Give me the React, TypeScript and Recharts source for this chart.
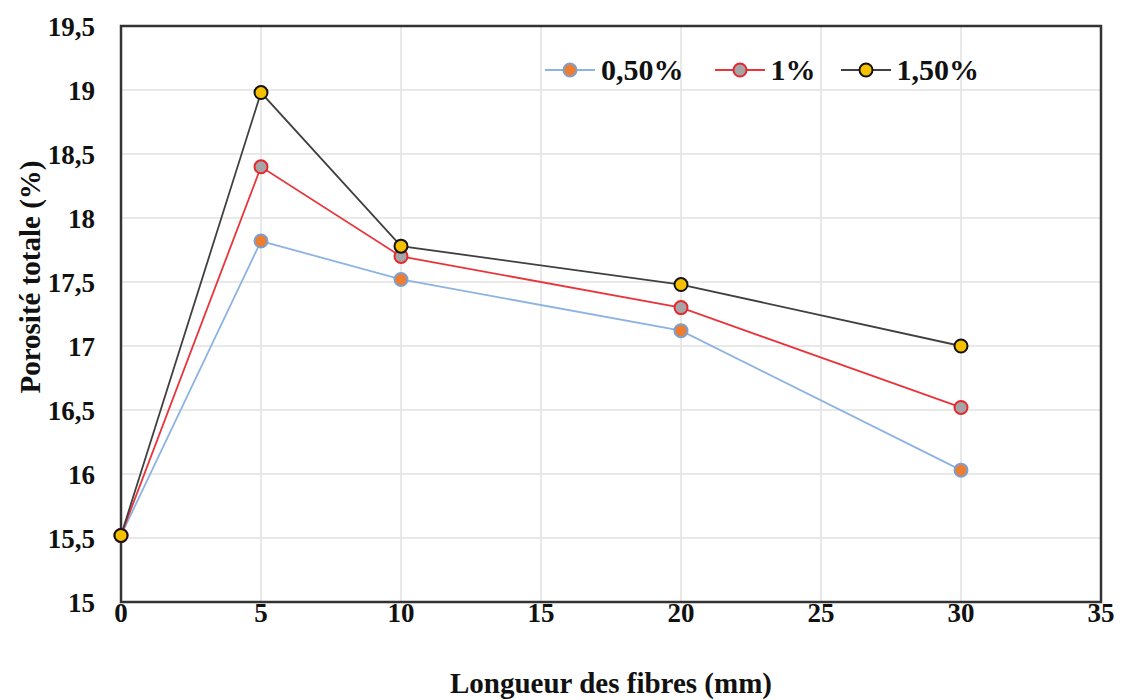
import React from "react";
import {
  LineChart,
  Line,
  XAxis,
  YAxis,
  CartesianGrid,
  Legend,
  ReferenceArea,
  Label,
} from "recharts";

// longueur des fibres (mm)
const lengths = [0, 5, 10, 20, 30];
// porosité totale (%) par dosage en fibres
const poro050 = [15.52, 17.82, 17.52, 17.12, 16.03];
const poro100 = [15.52, 18.4, 17.7, 17.3, 16.52];
const poro150 = [15.52, 18.98, 17.78, 17.48, 17.0];

const xTicks = [0, 5, 10, 15, 20, 25, 30, 35];
const yTicks = [15, 15.5, 16, 16.5, 17, 17.5, 18, 18.5, 19, 19.5];

const series = [
  { key: "p050", name: "0,50%", line: "#8db3e2", fill: "#ed7d31", dotStroke: "#7f9fcc" },
  { key: "p100", name: "1%", line: "#e8353b", fill: "#a5a5a5", dotStroke: "#e8262e" },
  { key: "p150", name: "1,50%", line: "#404040", fill: "#f5c000", dotStroke: "#111111" },
];

const data = lengths.map((l, i) => ({
  x: l,
  p050: poro050[i],
  p100: poro100[i],
  p150: poro150[i],
}));

const FONT = "'Liberation Serif', 'Times New Roman', serif";
const fmt = (v: number) => String(v).replace(".", ",");

function LegendBox() {
  return (
    <div style={{ display: "flex", alignItems: "center", fontFamily: FONT, fontWeight: 700, fontSize: 30, color: "#111" }}>
      {series.map((s, i) => (
        <div key={s.key} style={{ display: "flex", alignItems: "center", marginRight: i === 0 ? 30 : 24 }}>
          <svg width={52} height={20} style={{ marginRight: 5 }}>
            <line x1={1} y1={10} x2={51} y2={10} stroke={s.line} strokeWidth={2} />
            <circle cx={26} cy={10} r={6.5} fill={s.fill} stroke={s.dotStroke} strokeWidth={2} />
          </svg>
          <span>{s.name}</span>
        </div>
      ))}
    </div>
  );
}

function YTitle() {
  return (
    <text
      x={30}
      y={277}
      transform="rotate(-90 30 277)"
      textAnchor="middle"
      dominantBaseline="central"
      fontFamily={FONT}
      fontWeight={700}
      fontSize={29}
      fill="#111"
    >
      Porosité totale (%)
    </text>
  );
}

export default function App() {
  return (
    <div style={{ position: "absolute", left: 0, top: 0, width: 1123, height: 700, background: "#fff" }}>
      <LineChart width={1123} height={700} data={data} margin={{ top: 26, right: 22, bottom: 0, left: 0 }}>
        <CartesianGrid stroke="#e2e2e2" strokeWidth={1.5} />
        <XAxis
          dataKey="x"
          type="number"
          domain={[0, 35]}
          ticks={xTicks}
          height={98}
          axisLine={false}
          tickLine={false}
          tickMargin={-5}
          tick={{ fontSize: 27, fontWeight: 700, fontFamily: FONT, fill: "#111" }}
        >
          <Label
            value="Longueur des fibres (mm)"
            position="insideBottom"
            offset={7}
            style={{ fontSize: 29, fontWeight: 700, fontFamily: FONT, fill: "#111" }}
          />
        </XAxis>
        <YAxis
          type="number"
          domain={[15, 19.5]}
          ticks={yTicks}
          width={121}
          axisLine={false}
          tickLine={false}
          tickMargin={20}
          tickFormatter={fmt}
          tick={{ fontSize: 27, fontWeight: 700, fontFamily: FONT, fill: "#111" }}
        >
          <Label content={<YTitle />} />
        </YAxis>
        <ReferenceArea x1={0} x2={35} y1={15} y2={19.5} fill="none" stroke="#333" strokeWidth={2.5} />
        <Legend
          content={<LegendBox />}
          layout="horizontal"
          verticalAlign="middle"
          align="center"
          wrapperStyle={{ top: 53, left: 544, width: "auto" }}
        />
        {series.map((s) => (
          <Line
            key={s.key}
            dataKey={s.key}
            name={s.name}
            type="linear"
            stroke={s.line}
            strokeWidth={1.8}
            dot={{ r: 6.5, fill: s.fill, stroke: s.dotStroke, strokeWidth: 2 }}
            activeDot={false}
            isAnimationActive={false}
          />
        ))}
      </LineChart>
    </div>
  );
}
